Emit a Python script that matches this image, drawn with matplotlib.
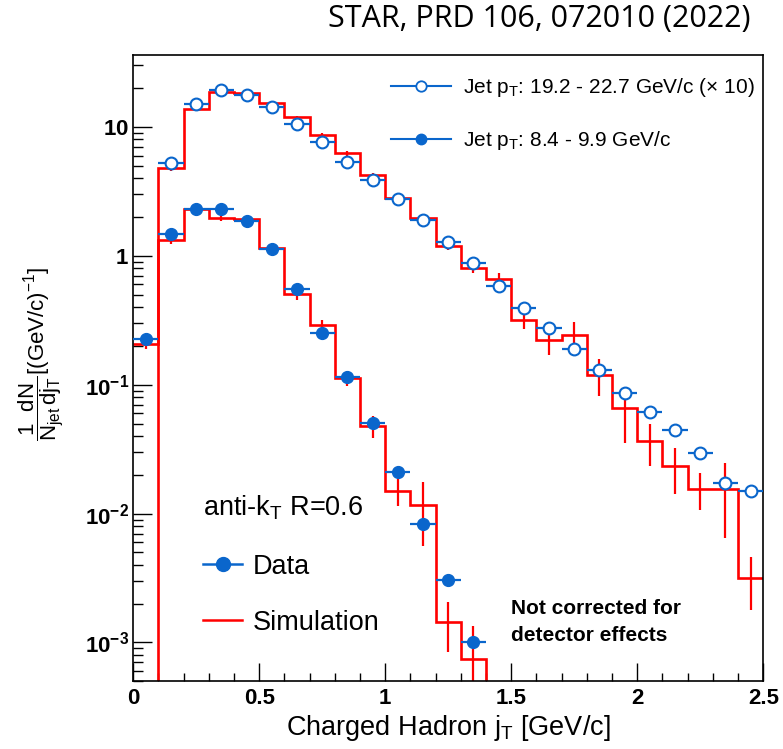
import numpy as np
import matplotlib
matplotlib.use("Agg")
import matplotlib.pyplot as plt
from matplotlib.lines import Line2D
from matplotlib.ticker import LogLocator, FixedLocator, MultipleLocator, NullFormatter

plt.rcParams['font.family'] = ['Liberation Sans', 'DejaVu Sans']
plt.rcParams['mathtext.fontset'] = 'custom'
plt.rcParams['mathtext.rm'] = 'Liberation Sans'
plt.rcParams['mathtext.it'] = 'Liberation Sans'
plt.rcParams['mathtext.bf'] = 'Liberation Sans:bold'

# bins in charged hadron jT [GeV/c]
edges = np.round(np.arange(0, 2.51, 0.1), 2)

# simulation, jet pT 19.2-22.7 GeV/c (x10)
sim_high = [0, 4.78, 13.7, 18.8, 18.5, 15.3, 11.9, 8.62, 6.25, 4.22, 2.80, 1.98, 1.19,
            0.80, 0.656, 0.318, 0.221, 0.245, 0.120, 0.0655, 0.0365, 0.0233, 0.0156,
            0.0155, 0.00318]
sim_high_err = [0, 0.2, 0.4, 0.5, 0.5, 0.4, 0.35, 0.3, 0.25, 0.18, 0.13, 0.1, 0.08,
                0.07, 0.08, 0.045, 0.05, 0.06, 0.038, 0.03, 0.013, 0.009, 0.005,
                0.009, 0.0014]

# simulation, jet pT 8.4-9.9 GeV/c
sim_low = [0.208, 1.33, 2.32, 1.96, 1.92, 1.16, 0.508, 0.290, 0.112, 0.0478, 0.0149,
           0.0116, 0.00145, 0.00075, 0, 0, 0, 0, 0, 0, 0, 0, 0, 0, 0]
sim_low_err = [0.02, 0.1, 0.1, 0.08, 0.06, 0.05, 0.05, 0.03, 0.015, 0.009, 0.0035,
               0.006, 0.0006, 0.0006, 0, 0, 0, 0, 0, 0, 0, 0, 0, 0, 0]

# data, jet pT 19.2-22.7 GeV/c (x10), bins from 0.1
data_high = [5.29, 15.2, 19.3, 17.7, 14.2, 10.6, 7.65, 5.35, 3.86, 2.78, 1.89, 1.27,
             0.875, 0.583, 0.396, 0.277, 0.191, 0.131, 0.0868, 0.0617, 0.0445,
             0.0296, 0.0173, 0.0149]
# data, jet pT 8.4-9.9 GeV/c, bins from 0
data_low = [0.225, 1.49, 2.30, 2.32, 1.85, 1.14, 0.549, 0.253, 0.1146, 0.0507,
            0.0211, 0.00837, 0.00308, 0.0010]

blue = '#0a66cc'
red = '#ff0000'

centers = (edges[:-1] + edges[1:]) / 2
half = 0.05

fig = plt.figure(figsize=(7.83, 7.49), dpi=100)
ax = fig.add_axes([0.1702, 0.0904, 0.8046, 0.8358])

def floor(v):
    v = np.asarray(v, dtype=float)
    return np.where(v > 0, v, 1e-9)

# simulation histograms
for vals, errs in [(sim_high, sim_high_err), (sim_low, sim_low_err)]:
    ax.stairs(floor(vals), edges, baseline=None, color=red, lw=1.9, zorder=2)
    v = np.asarray(vals); e = np.asarray(errs)
    m = v > 0
    ax.errorbar(centers[m], v[m], yerr=e[m], fmt='none', ecolor=red, elinewidth=1.6,
                capsize=0, zorder=2)

# data points
n_hi = len(data_high)
ax.errorbar(centers[1:1 + n_hi], data_high, xerr=half, fmt='o', ms=8.5, mfc='white',
            mec=blue, mew=1.5, ecolor=blue, elinewidth=1.6, capsize=0, zorder=3)
n_lo = len(data_low)
ax.errorbar(centers[:n_lo], data_low, xerr=half, fmt='o', ms=8.5, mfc=blue,
            mec=blue, ecolor=blue, elinewidth=1.6, capsize=0, zorder=3)

ax.set_xlim(0, 2.5)
ax.set_yscale('log')
ax.set_ylim(5e-4, 36)

ax.xaxis.set_minor_locator(MultipleLocator(0.1))
ax.set_xticks([0, 0.5, 1, 1.5, 2, 2.5])
ax.set_xticklabels(['0', '0.5', '1', '1.5', '2', '2.5'], fontweight='bold', fontsize=16)

ax.yaxis.set_major_locator(FixedLocator([1e-3, 1e-2, 1e-1, 1, 10]))
ax.set_yticklabels([r'$\mathbf{10^{-3}}$', r'$\mathbf{10^{-2}}$', r'$\mathbf{10^{-1}}$',
                    r'$\mathbf{1}$', r'$\mathbf{10}$'], fontsize=16)
ax.yaxis.set_minor_locator(LogLocator(base=10, subs=np.arange(2, 10), numticks=20))
ax.yaxis.set_minor_formatter(NullFormatter())

ax.tick_params(axis='both', which='both', direction='in', top=False, right=False,
               width=1.0, color='black')
ax.tick_params(axis='x', which='major', length=13, pad=5)
ax.tick_params(axis='x', which='minor', length=6)
ax.tick_params(axis='y', which='major', length=14, pad=3)
ax.tick_params(axis='y', which='minor', length=7)
for s in ax.spines.values():
    s.set_linewidth(1.2)

ax.set_xlabel(r'Charged Hadron j$_{T}$ [GeV/c]', fontsize=19.5, va='center')
ax.xaxis.set_label_coords(0.5, -0.0745)
fig.text(41 / 783, 1 - 354 / 749,
         r'$\dfrac{1\ \ dN}{N_{jet}\,dj_{T}}$[(GeV/c)$^{-1}$]',
         rotation=90, ha='center', va='center', fontsize=16)

# upper legend
h1 = [Line2D([], [], color=blue, lw=1.5, marker='o', ms=7.5, mfc='white', mec=blue, mew=1.3),
      Line2D([], [], color=blue, lw=1.5, marker='o', ms=7.5, mfc=blue, mec=blue)]
leg1 = ax.legend(h1, [r'Jet p$_{T}$: 19.2 - 22.7 GeV/c (× 10)', r'Jet p$_{T}$: 8.4 - 9.9 GeV/c'],
                 loc='upper left', bbox_to_anchor=(0.3955, 0.98), frameon=False,
                 fontsize=15, handlelength=2.9, handletextpad=0.55, labelspacing=1.45,
                 borderaxespad=0)
ax.add_artist(leg1)

# lower legend
h2 = [Line2D([], [], color=blue, lw=1.8, marker='o', ms=10, mfc=blue, mec=blue),
      Line2D([], [], color=red, lw=1.8)]
leg2 = ax.legend(h2, ['Data', 'Simulation'], loc='upper left',
                 bbox_to_anchor=(0.0937, 0.221), frameon=False, fontsize=19.5,
                 handlelength=1.45, handletextpad=0.38, labelspacing=1.11, borderaxespad=0)

ax.text(0.11, 0.278, r'anti-k$_{T}$ R=0.6', transform=ax.transAxes, fontsize=19.5,
        ha='left', va='center')
ax.text(0.6, 0.095, 'Not corrected for\ndetector effects', transform=ax.transAxes,
        fontsize=15, fontweight='bold', ha='left', va='center', linespacing=1.55)

fig.text(750 / 783, 1 - 19 / 749, 'STAR, PRD 106, 072010 (2022)', ha='right', va='center',
         fontsize=22, family='Open Sans')

fig.savefig('out.png', dpi=100)
